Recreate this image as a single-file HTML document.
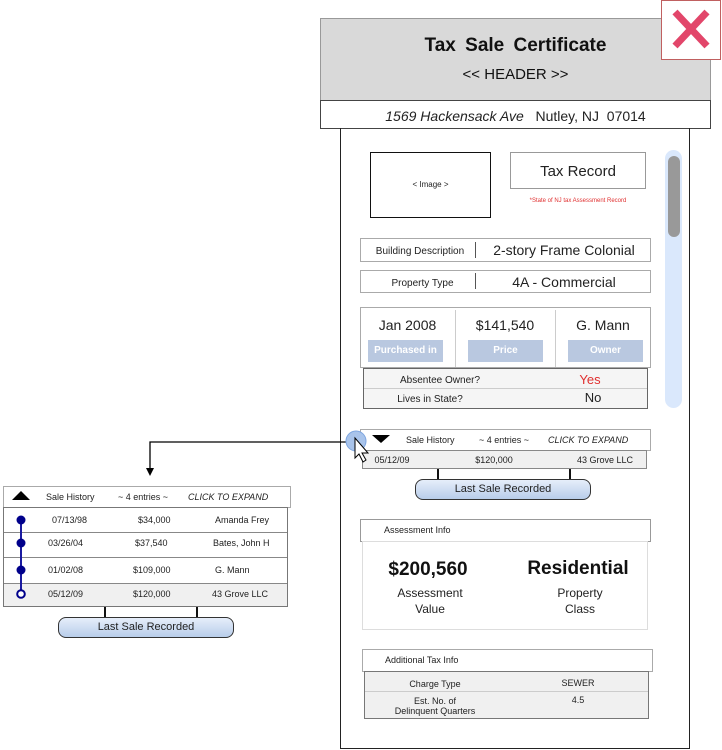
<!DOCTYPE html>
<html><head><meta charset="utf-8"><style>
*{box-sizing:border-box;margin:0;padding:0}
body{width:722px;height:750px;background:#fff;position:relative;overflow:hidden;font-family:"Liberation Sans",Arial,sans-serif;color:#222}
.a{position:absolute}
.t{position:absolute;white-space:nowrap;text-align:center}
.box{position:absolute;border:1px solid #999;background:#fff}
.pill{position:absolute;border:1px solid #333;border-radius:8px;background:linear-gradient(#e6eefa,#b8cdea);font-size:11px;text-align:center;line-height:18px}
.lbl{position:absolute;background:#b9c8e0;color:#fff;font-size:10px;font-weight:bold;text-align:center;line-height:22px}
</style></head><body>

<div class="a" style="left:320px;top:18px;width:391px;height:83px;background:#d9d9d9;border:1px solid #999"></div>
<div class="t" style="left:320px;top:35px;width:391px;font-size:19px;font-weight:bold;color:#111;word-spacing:4px">Tax Sale Certificate</div>
<div class="t" style="left:320px;top:66px;width:391px;font-size:15px;color:#111">&lt;&lt; HEADER &gt;&gt;</div>
<div class="a" style="left:320px;top:100px;width:391px;height:29px;border:1px solid #444;background:#fff"></div>
<div class="t" style="left:320px;top:108px;width:391px;font-size:14px;color:#222"><i>1569 Hackensack Ave</i>&nbsp;&nbsp; Nutley, NJ&nbsp; 07014</div>

<div class="a" style="left:661px;top:0;width:60px;height:60px;border:1px solid #c06060;background:#fff"></div>
<svg class="a" style="left:661px;top:0" width="60" height="60"><path d="M14 12 L46 46 M46 12 L14 46" stroke="#e2466a" stroke-width="7"/></svg>

<div class="a" style="left:340px;top:128px;width:350px;height:621px;border:1px solid #222;border-top:none"></div>

<div class="a" style="left:370px;top:152px;width:121px;height:66px;border:1px solid #111"></div>
<div class="t" style="left:370px;top:180px;width:121px;font-size:8px">&lt; Image &gt;</div>
<div class="box" style="left:510px;top:152px;width:136px;height:37px"></div>
<div class="t" style="left:510px;top:163px;width:136px;font-size:15px">Tax Record</div>
<div class="t" style="left:510px;top:198px;width:136px;font-size:6px;color:#e03030">*State of NJ tax Assessment Record</div>

<div class="a" style="left:665px;top:150px;width:17px;height:258px;background:#dae8fc;border-radius:9px"></div>
<div class="a" style="left:668px;top:156px;width:12px;height:81px;background:#999;border-radius:6px"></div>

<div class="box" style="left:360px;top:238px;width:291px;height:24px;border:1px solid #aaa"></div>
<div class="a" style="left:475px;top:242px;width:1px;height:16px;background:#555"></div>
<div class="t" style="left:365px;top:246px;width:110px;font-size:10px">Building Description</div>
<div class="t" style="left:478px;top:242px;width:172px;font-size:14px">2-story Frame Colonial</div>
<div class="box" style="left:360px;top:270px;width:291px;height:23px;border:1px solid #aaa"></div>
<div class="a" style="left:475px;top:273px;width:1px;height:16px;background:#555"></div>
<div class="t" style="left:365px;top:278px;width:115px;font-size:10px">Property Type</div>
<div class="t" style="left:478px;top:274px;width:172px;font-size:14px">4A - Commercial</div>

<div class="box" style="left:360px;top:307px;width:291px;height:61px;border:1px solid #aaa"></div>
<div class="a" style="left:455px;top:310px;width:1px;height:57px;background:#ccc"></div>
<div class="a" style="left:555px;top:310px;width:1px;height:57px;background:#ccc"></div>
<div class="t" style="left:360px;top:317px;width:95px;font-size:14px">Jan 2008</div>
<div class="t" style="left:455px;top:317px;width:100px;font-size:14px">$141,540</div>
<div class="t" style="left:555px;top:317px;width:96px;font-size:14px">G. Mann</div>
<div class="lbl" style="left:368px;top:340px;width:75px;height:22px">Purchased in</div>
<div class="lbl" style="left:468px;top:340px;width:75px;height:22px">Price</div>
<div class="lbl" style="left:568px;top:340px;width:75px;height:22px">Owner</div>
<div class="a" style="left:363px;top:368px;width:285px;height:41px;border:1px solid #666;background:#f5f5f5"></div>
<div class="a" style="left:364px;top:388px;width:283px;height:1px;background:#ccc"></div>
<div class="t" style="left:390px;top:375px;width:100px;font-size:10px">Absentee Owner?</div>
<div class="t" style="left:545px;top:372px;width:90px;font-size:13px;color:#e03030">Yes</div>
<div class="t" style="left:380px;top:394px;width:100px;font-size:10px">Lives in State?</div>
<div class="t" style="left:548px;top:390px;width:90px;font-size:13px">No</div>

<div class="box" style="left:360px;top:429px;width:291px;height:22px;border:1px solid #aaa"></div>
<svg class="a" style="left:372px;top:435px" width="20" height="10"><path d="M0 0 L18 0 L9 8 Z" fill="#000"/></svg>
<div class="t" style="left:406px;top:435px;font-size:9px">Sale History</div>
<div class="t" style="left:479px;top:435px;font-size:9px">~ 4 entries ~</div>
<div class="t" style="left:548px;top:435px;font-size:9px;font-style:italic">CLICK TO EXPAND</div>
<div class="a" style="left:362px;top:450px;width:285px;height:19px;border:1px solid #888;background:#f0f0f0"></div>
<div class="t" style="left:362px;top:455px;width:60px;font-size:9px">05/12/09</div>
<div class="t" style="left:464px;top:455px;width:60px;font-size:9px">$120,000</div>
<div class="t" style="left:570px;top:455px;width:70px;font-size:9px">43 Grove LLC</div>
<div class="a" style="left:437px;top:469px;width:2px;height:11px;background:#111"></div>
<div class="a" style="left:569px;top:469px;width:2px;height:11px;background:#111"></div>
<div class="pill" style="left:415px;top:479px;width:176px;height:21px">Last Sale Recorded</div>

<svg class="a" style="left:0;top:0" width="722" height="750">
<path d="M346 442 L150 442 L150 470" fill="none" stroke="#000" stroke-width="1.3"/>
<path d="M146 468 L154 468 L150 476 Z" fill="#000"/>
<circle cx="356" cy="441" r="10" fill="#a9c4eb" stroke="#7ea6e0"/>
<path d="M355 438 L355 458 L359 454 L363 462 L366 460 L362 453 L368 453 Z" fill="#fff" stroke="#000" stroke-width="1"/>
</svg>

<div class="box" style="left:3px;top:486px;width:288px;height:22px;border:1px solid #aaa"></div>
<svg class="a" style="left:12px;top:491px" width="20" height="10"><path d="M0 9 L18 9 L9 0 Z" fill="#000"/></svg>
<div class="t" style="left:46px;top:492px;font-size:9px">Sale History</div>
<div class="t" style="left:118px;top:492px;font-size:9px">~ 4 entries ~</div>
<div class="t" style="left:188px;top:492px;font-size:9px;font-style:italic">CLICK TO EXPAND</div>
<div class="a" style="left:3px;top:507px;width:285px;height:100px;border:1px solid #777;background:#fff"></div>
<div class="a" style="left:4px;top:532px;width:283px;height:1px;background:#888"></div>
<div class="a" style="left:4px;top:557px;width:283px;height:1px;background:#888"></div>
<div class="a" style="left:4px;top:583px;width:283px;height:23px;background:#f0f0f0;border-top:1px solid #888"></div>
<svg class="a" style="left:0;top:500px" width="40" height="110">
<line x1="21" y1="20" x2="21" y2="90" stroke="#1a1aa0" stroke-width="2"/>
<circle cx="21" cy="20" r="4.5" fill="#00008b"/>
<circle cx="21" cy="43" r="4.5" fill="#00008b"/>
<circle cx="21" cy="70" r="4.5" fill="#00008b"/>
<circle cx="21" cy="94" r="3.8" fill="#fff" stroke="#00008b" stroke-width="2"/>
</svg>
<div class="t" style="left:52px;top:515px;font-size:9px">07/13/98</div>
<div class="t" style="left:138px;top:515px;font-size:9px">$34,000</div>
<div class="t" style="left:215px;top:515px;font-size:9px">Amanda Frey</div>
<div class="t" style="left:48px;top:538px;font-size:9px">03/26/04</div>
<div class="t" style="left:135px;top:538px;font-size:9px">$37,540</div>
<div class="t" style="left:213px;top:538px;font-size:9px">Bates, John H</div>
<div class="t" style="left:48px;top:565px;font-size:9px">01/02/08</div>
<div class="t" style="left:133px;top:565px;font-size:9px">$109,000</div>
<div class="t" style="left:215px;top:565px;font-size:9px">G. Mann</div>
<div class="t" style="left:48px;top:589px;font-size:9px">05/12/09</div>
<div class="t" style="left:133px;top:589px;font-size:9px">$120,000</div>
<div class="t" style="left:212px;top:589px;font-size:9px">43 Grove LLC</div>
<div class="a" style="left:104px;top:607px;width:2px;height:11px;background:#111"></div>
<div class="a" style="left:196px;top:607px;width:2px;height:11px;background:#111"></div>
<div class="pill" style="left:58px;top:617px;width:176px;height:21px">Last Sale Recorded</div>

<div class="box" style="left:360px;top:519px;width:291px;height:23px;border:1px solid #999"></div>
<div class="t" style="left:384px;top:525px;font-size:9px">Assessment Info</div>
<div class="a" style="left:362px;top:541px;width:286px;height:89px;border:1.5px solid #ddd"></div>
<div class="t" style="left:368px;top:559px;width:120px;font-size:19px;font-weight:bold;color:#111">$200,560</div>
<div class="t" style="left:368px;top:585px;width:124px;font-size:12px;line-height:16px">Assessment<br>Value</div>
<div class="t" style="left:518px;top:558px;width:120px;font-size:19px;font-weight:bold;color:#111">Residential</div>
<div class="t" style="left:520px;top:585px;width:120px;font-size:12px;line-height:16px">Property<br>Class</div>

<div class="box" style="left:362px;top:649px;width:291px;height:23px;border:1.5px solid #aaa"></div>
<div class="t" style="left:385px;top:655px;font-size:9px">Additional Tax Info</div>
<div class="a" style="left:364px;top:671px;width:285px;height:48px;border:1px solid #777;background:#f0f0f0"></div>
<div class="a" style="left:365px;top:691px;width:283px;height:1px;background:#ccc"></div>
<div class="t" style="left:385px;top:679px;width:100px;font-size:9px">Charge Type</div>
<div class="t" style="left:528px;top:678px;width:100px;font-size:9px">SEWER</div>
<div class="t" style="left:385px;top:696px;width:100px;font-size:9px;line-height:10px">Est. No. of<br>Delinquent Quarters</div>
<div class="t" style="left:528px;top:695px;width:100px;font-size:9px">4.5</div>

</body></html>
